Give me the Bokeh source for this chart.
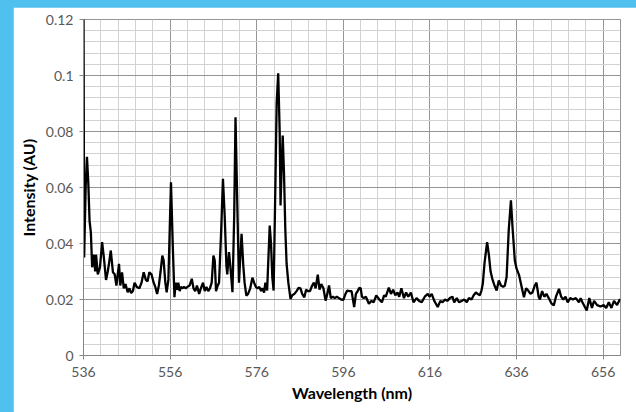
from bokeh.plotting import figure
from bokeh.models import FixedTicker, Range1d
from bokeh.embed import file_html
from bokeh.resources import INLINE

# ---- data ----
wavelength = [
    536.0, 536.15, 536.5, 536.8, 537.1, 537.4, 537.7, 538.0, 538.4, 538.7, 538.9, 539.3, 539.8,
    540.3, 540.7, 541.2, 541.6, 541.9, 542.3, 542.8, 543.2, 543.6, 544.2, 544.5, 544.9, 545.3,
    545.7, 546.2, 546.6, 547.0, 547.4, 547.8, 548.3, 548.9, 549.4, 549.9, 550.4, 550.8, 551.2,
    551.7, 552.2, 552.6, 553.0, 553.4, 553.8, 554.2, 554.5, 554.9, 555.2, 555.6, 556.2, 556.6,
    557.0, 557.3, 557.6, 557.9, 558.2, 558.5, 558.9, 559.2, 559.6, 560.0, 560.5, 561.0, 561.4,
    561.8, 562.2, 562.7, 563.1, 563.6, 564.0, 564.4, 564.8, 565.2, 565.6, 566.0, 566.3, 566.6,
    567.0, 567.3, 567.8, 568.2, 568.6, 569.0, 569.2, 569.6, 569.9, 570.4, 570.8, 571.1, 571.5,
    571.9, 572.2, 572.5, 572.9, 573.2, 573.6, 574.0, 574.5, 575.0, 575.4, 575.8, 576.2, 576.6,
    577.0, 577.3, 577.7, 578.0, 578.4, 579.0, 579.3, 579.6, 579.9, 580.3, 580.6, 580.96, 581.3,
    581.5, 581.8, 582.0, 582.3, 582.6, 582.9, 583.3, 583.8, 584.2, 584.7, 585.2, 585.7, 586.1,
    586.5, 587.0, 587.4, 587.8, 588.3, 588.8, 589.2, 589.6, 590.1, 590.5, 590.9, 591.4, 591.9,
    592.3, 592.7, 593.1, 593.6, 594.0, 594.5, 595.0, 595.5, 596.0, 596.5, 596.9, 597.4, 597.9,
    598.5, 598.9, 599.3, 599.7, 600.0, 600.3, 600.7, 601.2, 601.9, 602.5, 603.0, 603.6, 604.3,
    604.9, 605.4, 605.8, 606.5, 607.0, 607.5, 608.0, 608.5, 608.9, 609.4, 610.0, 610.5, 611.0,
    611.6, 612.2, 612.9, 613.5, 614.1, 614.8, 615.5, 615.9, 616.4, 617.0, 617.8, 618.4, 618.9,
    619.5, 620.0, 620.6, 621.2, 621.6, 622.2, 622.7, 623.3, 623.9, 624.5, 625.0, 625.6, 626.1,
    626.6, 627.0, 627.5, 627.9, 628.2, 628.6, 629.2, 629.6, 630.0, 630.4, 630.9, 631.4, 631.9,
    632.4, 632.9, 633.3, 633.7, 634.2, 634.7, 635.1, 635.6, 636.0, 636.6, 637.1, 637.7, 638.2,
    638.7, 639.2, 639.7, 640.2, 640.6, 641.1, 641.4, 641.9, 642.4, 642.9, 643.6, 644.1, 644.6,
    645.1, 645.8, 646.3, 646.8, 647.3, 647.8, 648.4, 649.0, 649.7, 650.4, 650.8, 651.2, 652.2,
    652.8, 653.4, 653.9, 654.6, 655.4, 656.1, 656.7, 657.3, 657.9, 658.5, 659.2, 659.9,
]
intensity = [
    0.125, 0.035, 0.060, 0.071, 0.062, 0.048, 0.044, 0.0315, 0.036, 0.030, 0.036, 0.029, 0.0315,
    0.0405, 0.035, 0.027, 0.030, 0.033, 0.0375, 0.0297, 0.029, 0.025, 0.0327, 0.025, 0.0297, 0.024,
    0.0255, 0.0226, 0.024, 0.0223, 0.023, 0.026, 0.0245, 0.024, 0.026, 0.0297, 0.027, 0.0265, 0.0297,
    0.029, 0.026, 0.0244, 0.022, 0.025, 0.030, 0.0357, 0.034, 0.026, 0.0226, 0.027, 0.0619, 0.040,
    0.0208, 0.026, 0.0235, 0.026, 0.023, 0.0245, 0.024, 0.0245, 0.024, 0.0245, 0.025, 0.0274, 0.024,
    0.023, 0.025, 0.022, 0.024, 0.026, 0.023, 0.0245, 0.023, 0.024, 0.026, 0.0357, 0.034, 0.023,
    0.025, 0.026, 0.045, 0.0631, 0.050, 0.032, 0.029, 0.0369, 0.032, 0.0226, 0.050, 0.0851, 0.055,
    0.026, 0.035, 0.0435, 0.032, 0.026, 0.0214, 0.022, 0.024, 0.0278, 0.026, 0.0245, 0.024, 0.0245,
    0.023, 0.024, 0.0225, 0.026, 0.0232, 0.0464, 0.040, 0.028, 0.0232, 0.060, 0.090, 0.1008, 0.080,
    0.0536, 0.070, 0.0786, 0.065, 0.045, 0.0327, 0.026, 0.0202, 0.0215, 0.022, 0.023, 0.0242, 0.024,
    0.022, 0.0208, 0.0235, 0.023, 0.023, 0.025, 0.026, 0.024, 0.0289, 0.0235, 0.0255, 0.024, 0.0196,
    0.022, 0.025, 0.0205, 0.021, 0.0205, 0.021, 0.0205, 0.020, 0.0199, 0.022, 0.0232, 0.023, 0.023,
    0.0173, 0.022, 0.023, 0.0242, 0.024, 0.021, 0.0205, 0.021, 0.0185, 0.0195, 0.019, 0.0215, 0.020,
    0.019, 0.0215, 0.021, 0.0242, 0.022, 0.0235, 0.0215, 0.0225, 0.021, 0.024, 0.0205, 0.0225, 0.021,
    0.0225, 0.019, 0.0205, 0.0195, 0.019, 0.021, 0.022, 0.021, 0.022, 0.0195, 0.0173, 0.0195, 0.019,
    0.020, 0.0195, 0.0205, 0.021, 0.019, 0.0205, 0.019, 0.0195, 0.020, 0.019, 0.0205, 0.020, 0.0215,
    0.0225, 0.022, 0.0215, 0.0232, 0.0256, 0.033, 0.0405, 0.036, 0.030, 0.0274, 0.025, 0.0232, 0.0268,
    0.025, 0.0245, 0.025, 0.028, 0.045, 0.0554, 0.045, 0.0339, 0.031, 0.0286, 0.025, 0.0208, 0.024,
    0.0232, 0.022, 0.0226, 0.025, 0.026, 0.021, 0.020, 0.023, 0.021, 0.022, 0.020, 0.0185, 0.0179,
    0.021, 0.0238, 0.021, 0.020, 0.021, 0.019, 0.0205, 0.020, 0.0205, 0.019, 0.0205, 0.019, 0.0161,
    0.0205, 0.017, 0.0195, 0.018, 0.0175, 0.018, 0.017, 0.019, 0.017, 0.0195, 0.018, 0.0202,
]

x_ticks = [536, 556, 576, 596, 616, 636, 656]
x_minor = list(range(536, 661, 4))
y_ticks = [0, 0.02, 0.04, 0.06, 0.08, 0.1, 0.12]
y_tick_labels = ["0", "0.02", "0.04", "0.06", "0.08", "0.1", "0.12"]
y_minor = [round(i * 0.004, 3) for i in range(31)]

FONT = "Lato"
BLUE = "#50c0ee"

p = figure(
    width=623, height=405,
    x_range=Range1d(536, 660), y_range=Range1d(0, 0.12),
    output_backend="svg", toolbar_location=None,
    min_border_left=70, min_border_right=16, min_border_top=12, min_border_bottom=57,
    background_fill_color="white", border_fill_color="white",
)
p.styles = {"margin-left": "13px", "margin-top": "7px"}

p.line(wavelength, intensity, line_color="black", line_width=2.3)

# grids
p.xgrid.ticker = FixedTicker(ticks=x_ticks, minor_ticks=x_minor)
p.ygrid.ticker = FixedTicker(ticks=y_ticks, minor_ticks=y_minor)
for g in (p.xgrid, p.ygrid):
    g.grid_line_color = "#959595"
    g.grid_line_width = 1
    g.minor_grid_line_color = "#d2d2d2"
    g.minor_grid_line_width = 1
p.outline_line_color = "#959595"

# axes
p.xaxis.ticker = FixedTicker(ticks=x_ticks)
p.yaxis.ticker = FixedTicker(ticks=y_ticks)
p.yaxis.major_label_overrides = {t: l for t, l in zip(y_ticks, y_tick_labels)}
for ax in (p.xaxis, p.yaxis):
    ax.axis_line_color = "#868686"
    ax.major_tick_line_color = "#868686"
    ax.major_tick_out = 4
    ax.major_tick_in = 0
    ax.minor_tick_line_color = None
    ax.major_label_text_font = FONT
    ax.major_label_text_font_size = "14px"
    ax.major_label_text_color = "#595959"
    ax.axis_label_text_font = FONT
    ax.axis_label_text_font_size = "16px"
    ax.axis_label_text_font_style = "bold"
    ax.axis_label_text_color = "black"

p.xaxis.axis_label = "Wavelength (nm)"
p.yaxis.axis_label = "Intensity (AU)"
p.xaxis.major_label_standoff = 7
p.yaxis.major_label_standoff = 6
p.xaxis.axis_label_standoff = 3
p.yaxis.axis_label_standoff = 5

html = file_html(p, INLINE)
html = html.replace("</head>", "<style>html, body { background-color: %s; }</style></head>" % BLUE, 1)
open("out.html", "w").write(html)
